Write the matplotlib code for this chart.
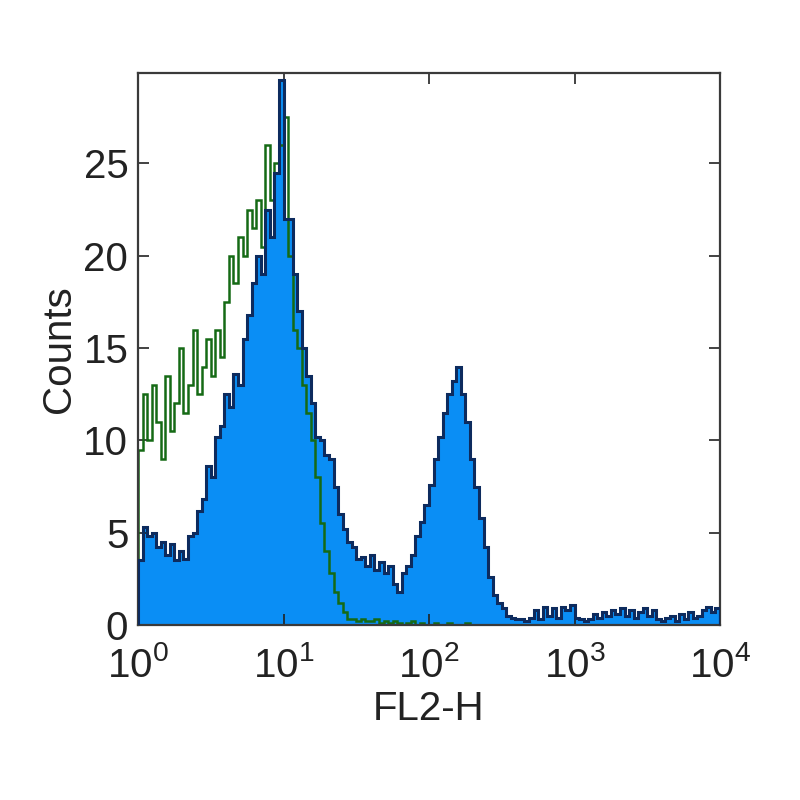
import numpy as np
import matplotlib
matplotlib.use("Agg")
import matplotlib.pyplot as plt
from matplotlib.ticker import LogLocator, NullLocator

plt.rcParams['font.family'] = ['Liberation Sans', 'DejaVu Sans']
plt.rcParams['mathtext.fontset'] = 'custom'
plt.rcParams['mathtext.rm'] = 'Liberation Sans'
plt.rcParams['mathtext.it'] = 'Liberation Sans'
plt.rcParams['mathtext.bf'] = 'Liberation Sans'

# 128 log channels over 4 decades (FL2-H 10^0 .. 10^4)
edges = np.logspace(0, 4, 129)

# stained sample (filled)
sample_counts = [
    3.5, 5.3, 4.8, 5.0, 4.2, 4.5, 3.8, 4.4, 3.5, 4.0,
    3.6, 4.8, 5.0, 6.2, 6.8, 8.6, 8.0, 10.2, 10.8, 12.5,
    11.8, 13.6, 13.0, 15.5, 16.8, 18.5, 20.0, 19.0, 22.5, 21.0,
    24.5, 29.5, 22.0, 22.0, 19.0, 17.0, 15.0, 13.5, 12.0, 10.2,
    10.0, 9.2, 9.0, 7.5, 6.0, 5.2, 4.5, 4.2, 3.6, 3.7,
    3.2, 3.8, 3.0, 3.4, 2.8, 3.2, 2.2, 1.8, 2.8, 3.2,
    3.8, 4.8, 5.6, 6.5, 7.6, 9.0, 10.2, 11.5, 12.5, 13.2,
    14.0, 12.5, 11.0, 9.0, 7.5, 5.8, 4.2, 2.6, 1.6, 1.2,
    0.9, 0.5, 0.4, 0.3, 0.3, 0.2, 0.4, 0.8, 0.3, 1.0,
    0.5, 0.9, 0.4, 1.0, 0.8, 1.1, 0.4, 0.3, 0.2, 0.3,
    0.6, 0.4, 0.7, 0.5, 0.8, 0.6, 0.9, 0.5, 0.8, 0.4,
    0.7, 0.9, 0.5, 0.8, 0.3, 0.2, 0.4, 0.5, 0.2, 0.6,
    0.3, 0.7, 0.4, 0.5, 0.8, 1.0, 0.7, 0.9,
]

# isotype control (green line)
control_counts = [
    9.5, 12.5, 10.0, 13.0, 11.0, 9.0, 13.5, 10.5, 12.0, 15.0,
    11.5, 13.0, 16.0, 12.5, 14.0, 15.5, 13.5, 16.0, 14.5, 17.5,
    20.0, 18.5, 21.0, 20.0, 22.5, 21.5, 23.0, 20.5, 26.0, 23.0,
    25.0, 26.0, 27.5, 20.0, 16.0, 15.0, 13.0, 11.5, 10.0, 8.0,
    5.5, 4.0, 2.8, 1.8, 1.2, 0.7, 0.3, 0.3, 0.2, 0.3,
    0.2, 0.2, 0.3, 0.1, 0.2, 0.1, 0.2, 0.1, 0.0, 0.1,
    0.2, 0.0, 0.1, 0.0, 0.0, 0.1, 0.0, 0.0, 0.1, 0.0,
    0.0, 0.0, 0.1, 0.0, 0.0, 0.0, 0.0, 0.0, 0.0, 0.0,
    0.0, 0.0, 0.0, 0.0, 0.0, 0.0, 0.0, 0.0, 0.0, 0.0,
    0.0, 0.0, 0.0, 0.0, 0.0, 0.0, 0.0, 0.0, 0.0, 0.0,
    0.0, 0.0, 0.0, 0.0, 0.0, 0.0, 0.0, 0.0, 0.0, 0.0,
    0.0, 0.0, 0.0, 0.0, 0.0, 0.0, 0.0, 0.0, 0.0, 0.0,
    0.0, 0.0, 0.0, 0.0, 0.0, 0.0, 0.0, 0.0,
]

y_ticks = [0, 5, 10, 15, 20, 25]

fig = plt.figure(figsize=(8, 8), dpi=100)
ax = fig.add_axes([0.1725, 0.21875, 0.7275, 0.69])

ax.stairs(sample_counts, edges, fill=True, color='#0a8ef5', zorder=1)
ax.stairs(control_counts, edges, color='#156a15', linewidth=1.8, zorder=2)
ax.stairs(sample_counts, edges, color='#0d2b5e', linewidth=2.2, zorder=3)

ax.set_xscale('log')
ax.set_xlim(1, 1e4)
ax.set_ylim(0, 29.9)
ax.xaxis.set_major_locator(LogLocator(base=10, numticks=10))
ax.xaxis.set_minor_locator(NullLocator())
ax.set_yticks(y_ticks)

ax.tick_params(direction='in', length=8, width=1.2, top=True, right=True,
               labelsize=29, colors='#222222')
ax.tick_params(axis='y', pad=7)
ax.tick_params(axis='x', pad=15)
for s in ax.spines.values():
    s.set_color('#3a3a3a')
    s.set_linewidth(1.6)

ax.set_xlabel('FL2-H', fontsize=29, color='#222222', labelpad=4)
ax.set_ylabel('Counts', fontsize=29, color='#222222', labelpad=4)

fig.savefig('out.png', dpi=100, facecolor='white')
